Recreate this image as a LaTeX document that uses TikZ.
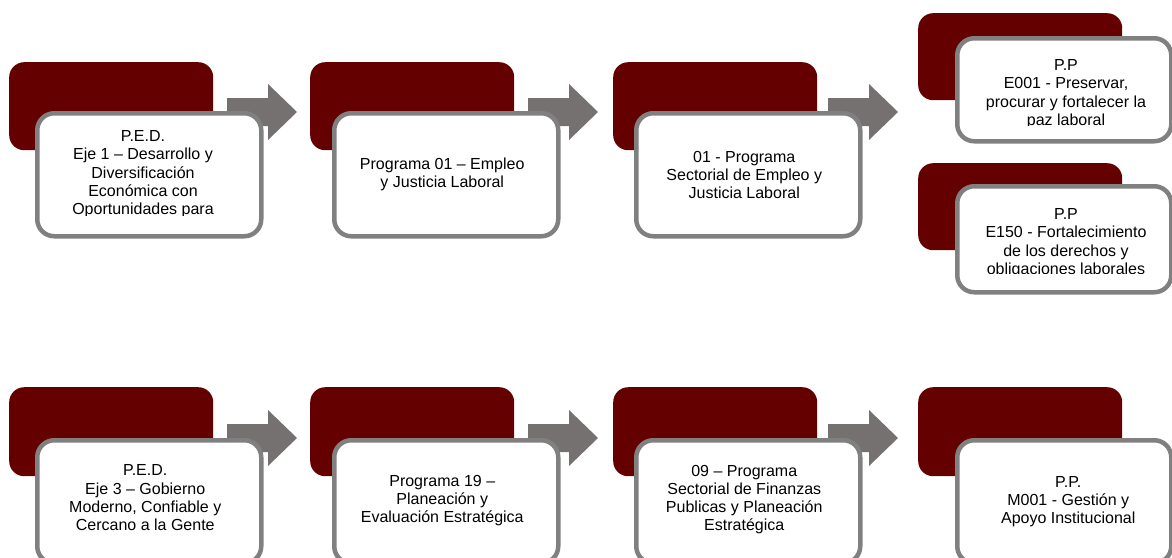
\documentclass[tikz,border=0pt]{standalone}
\usepackage{fontspec}
\setmainfont{Liberation Sans}
\definecolor{darkred}{RGB}{100,0,0}
\definecolor{bordergray}{RGB}{128,128,128}
\definecolor{arrowgray}{RGB}{118,113,113}
\tikzset{
  backbox/.style={fill=darkred, rounded corners=15pt, anchor=north west, inner sep=0pt,
    minimum width=204pt, minimum height=88pt},
  frontbox/.style={fill=white, draw=bordergray, line width=4.5pt, rounded corners=17pt,
    anchor=north west, inner sep=0pt, minimum width=224pt, minimum height=123pt},
  boxtext/.style={font=\fontsize{16pt}{18.2pt}\selectfont, align=center, inner sep=0pt, text=black},
  blockarrow/.pic={\fill[arrowgray] (0,-14) -- (41,-14) -- (41,-28) -- (70,0) -- (41,28) -- (41,14) -- (0,14) -- cycle;}
}
\begin{document}
\begin{tikzpicture}[x=1pt,y=-1pt]
\useasboundingbox (0,0) rectangle (1172,557);
\clip (0,0) rectangle (1172,557);
% back boxes
\node[backbox] (d1) at (9,62) {};
\node[backbox] (d2) at (310,62) {};
\node[backbox] (d3) at (613,62) {};
\node[backbox, minimum height=87pt] (d4a) at (918,13) {};
\node[backbox, minimum height=87pt] (d4b) at (918,163) {};
\node[backbox, minimum height=89pt] (d5) at (9,387) {};
\node[backbox, minimum height=89pt] (d6) at (310,387) {};
\node[backbox, minimum height=89pt] (d7) at (613,387) {};
\node[backbox, minimum height=89pt] (d8) at (918,387) {};
% arrows
\pic at (227,112) {blockarrow};
\pic at (528,112) {blockarrow};
\pic at (828,112) {blockarrow};
\pic at (227,438) {blockarrow};
\pic at (528,438) {blockarrow};
\pic at (828,438) {blockarrow};
% front boxes
\node[frontbox] (w1) at (35,111) {};
\node[frontbox] (w2) at (332,111) {};
\node[frontbox] (w3) at (634,111) {};
\node[frontbox, minimum width=214pt, minimum height=103pt] (w4a) at (955,36) {};
\node[frontbox, minimum width=214pt, minimum height=106pt] (w4b) at (955,184) {};
\node[frontbox] (w5) at (35,438) {};
\node[frontbox] (w6) at (332,438) {};
\node[frontbox] (w7) at (634,438) {};
\node[frontbox, minimum width=214pt] (w8) at (955,438) {};
% texts
\begin{scope}
\clip (35,111) rectangle (259,215.5);
\node[boxtext, anchor=north] (t1) at (143,130.5) {P.E.D.\\Eje 1 – Desarrollo y\\Diversificación\\Económica con\\Oportunidades para};
\end{scope}
\node[boxtext] (t2) at ([xshift=-4pt]w2.center) {Programa 01 – Empleo\\y Justicia Laboral};
\node[boxtext] (t3) at ([xshift=-4pt]w3.center) {01 - Programa\\Sectorial de Empleo y\\Justicia Laboral};
\begin{scope}
\clip (955,36) rectangle (1169,125);
\node[boxtext, anchor=north] (t4a) at (1066,59.5) {P.P\\E001 - Preservar,\\procurar y fortalecer la\\paz laboral};
\end{scope}
\begin{scope}
\clip (955,184) rectangle (1169,273);
\node[boxtext, anchor=north] (t4b) at (1066,208.5) {P.P\\E150 - Fortalecimiento\\de los derechos y\\obligaciones laborales};
\end{scope}
\node[boxtext] (t5) at ([xshift=-4pt,yshift=4pt]w5.center) {P.E.D.\\Eje 3 – Gobierno\\Moderno, Confiable y\\Cercano a la Gente};
\node[boxtext] (t6) at ([xshift=-4pt,yshift=1pt]w6.center) {Programa 19 –\\Planeación y\\Evaluación Estratégica};
\node[boxtext] (t7) at ([xshift=-4pt,yshift=2pt]w7.center) {09 – Programa\\Sectorial de Finanzas\\Publicas y Planeación\\Estratégica};
\node[boxtext] (t8) at ([xshift=4pt]w8.center) {P.P.\\M001 - Gestión y\\Apoyo Institucional};
\end{tikzpicture}
\end{document}
